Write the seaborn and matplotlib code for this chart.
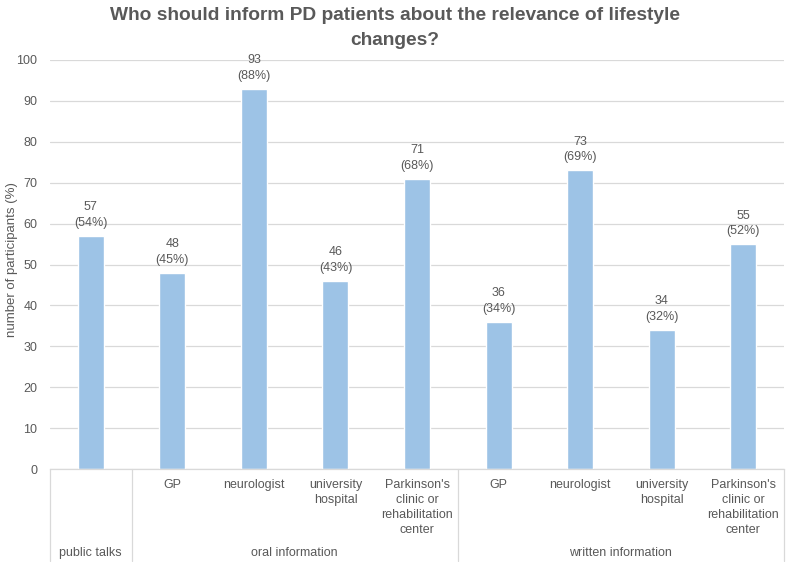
import matplotlib
matplotlib.use("Agg")
import matplotlib.pyplot as plt
import seaborn as sns
import pandas as pd
from matplotlib.lines import Line2D

groups = ["public talks", "oral information", "oral information", "oral information", "oral information",
          "written information", "written information", "written information", "written information"]
subcats = ["", "GP", "neurologist", "university\nhospital", "Parkinson's\nclinic or\nrehabilitation\ncenter",
           "GP", "neurologist", "university\nhospital", "Parkinson's\nclinic or\nrehabilitation\ncenter"]
counts = [57, 48, 93, 46, 71, 36, 73, 34, 55]
percents = [54, 45, 88, 43, 68, 34, 69, 32, 52]

title = "Who should inform PD patients about the relevance of lifestyle\nchanges?"
ylabel = "number of participants (%)"

sns.set_theme(style="white")
plt.rcParams['font.family'] = ['Liberation Sans', 'DejaVu Sans']

TXT = "#595959"
BAR = "#9DC3E6"
GRID = "#D9D9D9"

df = pd.DataFrame({"key": [f"{g}|{s}|{i}" for i, (g, s) in enumerate(zip(groups, subcats))],
                   "count": counts})

fig = plt.figure(figsize=(7.94, 5.62), dpi=100)
ax = fig.add_axes([50/794, 1-469/562, (784-50)/794, (469-60)/562])

sns.barplot(data=df, x="key", y="count", color=BAR, width=0.32, ax=ax, saturation=1)

labels = [f"{c}\n({p}%)" for c, p in zip(counts, percents)]
ax.bar_label(ax.containers[0], labels=labels, padding=5, fontsize=9, color=TXT, linespacing=1.4)

ax.set_ylim(0, 100)
ax.set_xlim(-0.5, len(counts) - 0.5)
ax.set_yticks(range(0, 101, 10))
ax.tick_params(axis='y', labelsize=9, colors=TXT, length=0, pad=9)
ax.set_xticks([])
ax.set_xlabel("")
ax.set_ylabel("")
fig.text(12/794, 1-260/562, ylabel, rotation=90, ha="center", va="center",
         fontsize=9.5, color=TXT)
ax.yaxis.grid(True, color=GRID, linewidth=0.9)
ax.set_axisbelow(True)
for s in ["top", "right", "left"]:
    ax.spines[s].set_visible(False)
ax.spines["bottom"].set_color(GRID)
ax.spines["bottom"].set_linewidth(0.9)

trans = ax.get_xaxis_transform()
# subcategory labels
for i, s in enumerate(subcats):
    ax.text(i, -0.025, s, transform=trans, ha="center", va="top", fontsize=9,
            color=TXT, linespacing=1.32)

# group labels and separators
bounds = []
start = 0
for i in range(1, len(groups) + 1):
    if i == len(groups) or groups[i] != groups[start]:
        bounds.append((start, i - 1, groups[start]))
        start = i
seps = set()
for a, b, g in bounds:
    ax.text((a + b) / 2, -0.205, g, transform=trans, ha="center", va="center",
            fontsize=9, color=TXT)
    seps.add(a - 0.5)
    seps.add(b + 0.5)
for x in sorted(seps):
    ax.add_line(Line2D([x, x], [0, -0.225], transform=trans, color=GRID,
                       linewidth=0.9, clip_on=False))

fig.text(0.497, 0.988, title, ha="center", va="top", fontsize=13.8, fontweight="bold",
         color=TXT, linespacing=1.6)

fig.savefig("out.png", dpi=100)
